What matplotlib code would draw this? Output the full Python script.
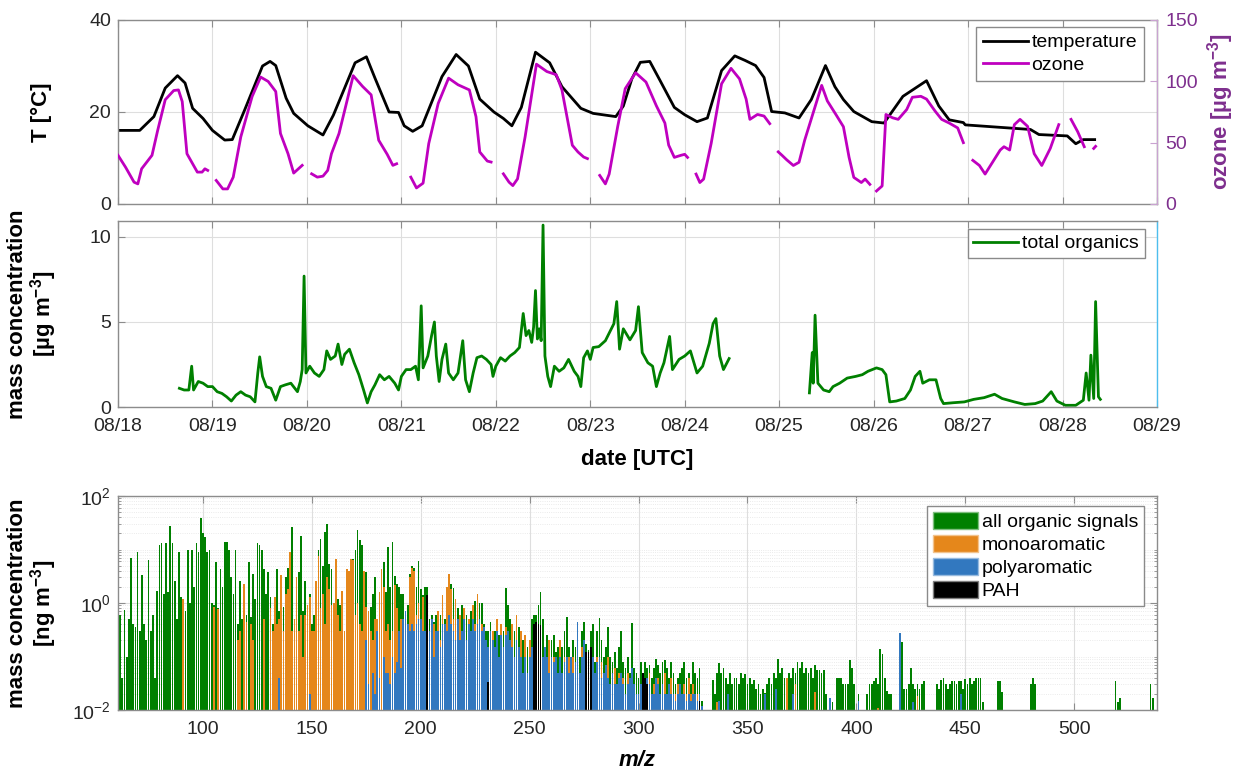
import numpy as np
import matplotlib
matplotlib.use("Agg")
import matplotlib.pyplot as plt
import matplotlib.ticker as mticker
from matplotlib.patches import Patch

plt.rcParams['font.family'] = ['Liberation Sans', 'DejaVu Sans']
plt.rcParams['mathtext.fontset'] = 'custom'
plt.rcParams['mathtext.rm'] = 'Liberation Sans'
plt.rcParams['mathtext.bf'] = 'Liberation Sans:bold'
plt.rcParams['mathtext.it'] = 'Liberation Sans:italic'

# --------------------------------------------------------------------------------------------------
# Data (time in days since 08/18 00:00 UTC)
# --------------------------------------------------------------------------------------------------

date_labels = ['08/18', '08/19', '08/20', '08/21', '08/22', '08/23',
               '08/24', '08/25', '08/26', '08/27', '08/28', '08/29']

temp_day = [0.0, 0.23, 0.38, 0.50, 0.63, 0.71, 0.79, 0.90, 1.0, 1.13, 1.21, 1.34, 1.53, 1.61,
            1.67, 1.78, 1.86, 2.01, 2.17, 2.28, 2.51, 2.63, 2.72, 2.87, 2.97, 3.03, 3.12, 3.22,
            3.43, 3.58, 3.71, 3.83, 3.98, 4.08, 4.17, 4.27, 4.42, 4.57, 4.70, 4.90, 5.03, 5.27,
            5.35, 5.44, 5.53, 5.63, 5.74, 5.89, 6.0, 6.13, 6.24, 6.39, 6.53, 6.64, 6.75, 6.84,
            6.92, 7.06, 7.21, 7.34, 7.49, 7.59, 7.68, 7.79, 7.98, 8.11, 8.31, 8.56, 8.69, 8.80,
            8.95, 8.97, 9.66, 9.75, 10.05, 10.14, 10.22, 10.34]
temp_c = [16, 16, 19, 25.2, 27.9, 26.3, 20.8, 18.6, 16, 13.9, 14, 20.4, 30, 31,
          30.1, 23, 19.7, 17, 15, 19.3, 30.7, 32, 27.4, 20, 19.9, 17, 15.8, 17,
          27.7, 32.5, 30, 22.8, 20, 18.6, 17, 21, 33, 30.7, 25.5, 20.8, 19.7, 19,
          21.3, 27.2, 30.8, 31, 26.8, 21, 19.4, 17.9, 18.7, 29, 32.2, 31.2, 30.1, 27.5,
          20.1, 19.8, 18.7, 22.7, 30.1, 25.5, 22.7, 20.1, 17.9, 17.6, 23.4, 26.8, 21.3, 18.3,
          17.7, 17.2, 16.2, 15.1, 14.8, 13.1, 14, 14]

nan = np.nan
ozone_day = [0.0, 0.08, 0.17, 0.21, 0.25, 0.36, 0.42, 0.50, 0.59, 0.64, 0.68, 0.73, 0.84, 0.89, 0.92, 0.95, 0.99,
             1.04, 1.11, 1.16, 1.22, 1.30, 1.42, 1.51, 1.59, 1.67, 1.72, 1.80, 1.86, 1.95, 2.0,
             2.05, 2.11, 2.17, 2.22, 2.26, 2.34, 2.49, 2.59, 2.68, 2.76, 2.85, 2.91, 2.95, 3.0,
             3.10, 3.16, 3.23, 3.29, 3.39, 3.50, 3.60, 3.72, 3.79, 3.83, 3.91, 3.95, 4.0,
             4.08, 4.14, 4.18, 4.23, 4.31, 4.43, 4.54, 4.64, 4.70, 4.81, 4.87, 4.93, 4.97, 5.05,
             5.10, 5.16, 5.20, 5.29, 5.37, 5.48, 5.59, 5.70, 5.79, 5.83, 5.89, 5.96, 6.0, 6.03, 6.07,
             6.12, 6.16, 6.20, 6.28, 6.39, 6.49, 6.58, 6.65, 6.69, 6.77, 6.84, 6.90, 6.95,
             6.99, 7.03, 7.08, 7.15, 7.21, 7.27, 7.36, 7.45, 7.51, 7.60, 7.68, 7.74, 7.79, 7.87, 7.91, 7.96, 8.0,
             8.03, 8.09, 8.13, 8.20, 8.26, 8.35, 8.41, 8.50, 8.56, 8.65, 8.72, 8.80, 8.89, 8.95, 9.0,
             9.05, 9.12, 9.18, 9.34, 9.38, 9.44, 9.49, 9.55, 9.63, 9.70, 9.78, 9.87, 9.96, 10.02,
             10.09, 10.16, 10.23, 10.28, 10.33, 10.35]
ozone_ug = [39.7, 30, 17.8, 16.4, 28.7, 39.7, 60, 85, 92.5, 93, 83.5, 41, 26, 26, 28.7, 27.4, nan,
            19.2, 12.3, 12.3, 21.9, 54.7, 87.6, 103.5, 99.9, 91.7, 57.5, 41, 25.2, 31.5, nan,
            24.6, 21.9, 22.7, 27.4, 41, 57.5, 104.6, 95.8, 89, 52, 40.5, 31.5, 32.8, nan,
            21.9, 13.1, 17, 49.3, 82, 102.6, 97.2, 93, 71.2, 42.4, 35, 34.2, nan,
            24.6, 17.8, 15, 20.5, 54.7, 114, 108, 105.4, 93, 47.9, 42.4, 38.3, 37, nan,
            23.3, 16.4, 24.4, 63, 94, 107, 99.4, 80, 66, 48, 38, 39.7, 40.5, 38, nan,
            24.4, 17.5, 20.3, 49.4, 98, 110.6, 102, 85.5, 69, 73, 71.7, 65.5, nan,
            42.5, 39.7, 36, 31.4, 34, 52, 74.4, 96.7, 84, 73, 63, 38, 21.7, 17.5, 20.3, 16, nan,
            10.6, 14.7, 73, 70.3, 69, 77, 87, 87.8, 85.5, 75.8, 69, 66, 62, 50, nan,
            35.6, 31.4, 24.4, 44, 46.7, 44, 64.7, 69, 63.3, 41, 31.4, 45.3, 64.7, nan,
            69, 59, 46.7, nan, 45.3, 47]

org_day = [0.65, 0.70, 0.75, 0.78, 0.80, 0.85, 0.90, 0.95, 1.00, 1.05, 1.10, 1.15, 1.20, 1.25,
           1.30, 1.35, 1.40, 1.45, 1.48, 1.50, 1.53, 1.57, 1.62, 1.67, 1.72, 1.77, 1.83, 1.90,
           1.93, 1.95, 1.97, 1.99, 2.03, 2.08, 2.13, 2.18, 2.21, 2.25, 2.30, 2.33, 2.37, 2.40,
           2.45, 2.50, 2.55, 2.60, 2.64, 2.68, 2.72, 2.77, 2.82, 2.87, 2.93, 2.97, 3.00, 3.05,
           3.10, 3.15, 3.18, 3.21, 3.23, 3.28, 3.32, 3.35, 3.37, 3.40, 3.43, 3.47, 3.50, 3.55,
           3.60, 3.65, 3.68, 3.72, 3.76, 3.80, 3.85, 3.90, 3.95, 3.97, 4.00, 4.05, 4.10, 4.15,
           4.20, 4.25, 4.29, 4.32, 4.35, 4.38, 4.40, 4.42, 4.44, 4.46, 4.48, 4.50, 4.52, 4.55,
           4.58, 4.62, 4.67, 4.72, 4.77, 4.83, 4.87, 4.90, 4.93, 4.97, 5.00, 5.03, 5.09, 5.16,
           5.25, 5.28, 5.31, 5.35, 5.42, 5.48, 5.51, 5.55, 5.61, 5.66, 5.70, 5.74, 5.78, 5.84,
           5.87, 5.94, 6.00, 6.06, 6.13, 6.19, 6.26, 6.30, 6.33, 6.37, 6.41, 6.47, 6.90,
           7.32, 7.35, 7.36, 7.38, 7.41, 7.47, 7.53, 7.57, 7.64, 7.72, 7.81, 7.88, 7.94, 8.03,
           8.09, 8.13, 8.17, 8.24, 8.33, 8.39, 8.44, 8.49, 8.52, 8.59, 8.66, 8.71, 8.74, 8.84,
           8.96, 9.06, 9.17, 9.28, 9.36, 9.49, 9.60, 9.71, 9.79, 9.88, 9.94, 10.03, 10.14, 10.22,
           10.25, 10.28, 10.30, 10.33, 10.35, 10.38, 10.40]
org_ug = [1.1, 1.0, 1.0, 2.4, 1.0, 1.5, 1.4, 1.2, 1.2, 0.9, 0.8, 0.6, 0.35, 0.7,
          0.9, 0.7, 0.6, 0.3, 2.0, 2.95, 1.8, 1.2, 1.1, 0.4, 1.2, 1.3, 1.4, 0.9,
          1.5, 2.2, 7.7, 2.0, 2.4, 2.0, 1.8, 2.2, 3.3, 2.8, 3.0, 3.7, 2.5, 3.1,
          3.4, 2.6, 1.9, 1.0, 0.24, 0.9, 1.3, 1.9, 1.6, 1.8, 1.4, 1.0, 1.8, 2.2,
          2.2, 2.4, 1.6, 5.95, 2.3, 3.0, 4.2, 5.0, 3.0, 1.5, 2.8, 3.7, 2.0, 1.6,
          2.0, 3.9, 1.6, 0.9, 2.0, 2.9, 3.0, 2.8, 2.5, 1.8, 2.4, 2.9, 2.7, 3.0,
          3.2, 3.5, 5.5, 4.2, 4.5, 3.8, 4.7, 6.85, 4.0, 4.6, 3.9, 10.7, 3.0, 1.8,
          1.2, 2.4, 2.1, 2.3, 2.8, 2.1, 1.8, 1.2, 2.9, 3.3, 2.8, 3.5, 3.55, 3.9,
          4.9, 6.2, 3.4, 4.6, 3.95, 4.5, 5.9, 3.2, 2.6, 2.4, 1.2, 2.0, 2.6, 4.15,
          2.2, 2.8, 3.0, 3.3, 2.0, 2.4, 3.75, 4.9, 5.2, 3.0, 2.2, 2.85, nan,
          0.83, 3.2, 1.4, 5.4, 1.4, 1.0, 0.9, 1.2, 1.4, 1.7, 1.8, 1.9, 2.1, 2.3,
          2.2, 1.9, 0.3, 0.35, 0.5, 1.0, 1.8, 2.1, 1.4, 1.6, 1.6, 0.5, 0.2, 0.25,
          0.3, 0.45, 0.55, 0.75, 0.5, 0.3, 0.15, 0.2, 0.35, 0.9, 0.35, 0.1, 0.1, 0.4,
          2.0, 0.4, 3.05, 0.5, 6.2, 0.6, 0.45]

# mass spectrum, one value per integer m/z [ng m-3]
mz_all_first = 62
all_signals = [0.6, 0.04, 0.75, 0.1, 0.5, 7, 0.4, 0.35, 9, 0.3,
               3.3, 0.4, 0.2, 6.4, 0.3, 0.6, 0.04, 1.7, 12, 13,
               1.5, 13, 1.6, 28, 13, 2.6, 0.5, 9, 1.3, 1.2,
               0.7, 10, 1.0, 10, 2, 13, 9, 38, 20, 17,
               9, 10, 1.0, 0.9, 5.8, 0.8, 4.4, 2, 14, 14,
               10, 3, 1.5, 10, 0.4, 2.6, 0.5, 2.3, 0.6, 5.8,
               0.55, 3.5, 1.2, 13, 12, 10, 4.4, 1.5, 3.8, 1.3,
               0.4, 1.3, 4.4, 0.7, 3.3, 0.85, 3, 4.5, 9, 26,
               0.5, 3.0, 3.8, 18, 0.7, 2.6, 0.9, 1.5, 0.4, 0.6,
               2.6, 10, 16, 5, 21, 30, 5.4, 4.4, 1.0, 6.7,
               1.2, 0.9, 1.7, 0.3, 4.4, 4.0, 6.7, 6.7, 10, 23,
               15, 12, 4, 3.8, 0.7, 0.85, 1.5, 3, 0.5, 1.6,
               4.4, 5.8, 1.6, 11, 2, 14, 3.2, 2.3, 2, 1.5,
               1.5, 0.7, 0.9, 3.5, 5, 4.5, 2.0, 6,
               1.8, 1.4, 2.0, 2.0, 0.5, 0.6, 0.45, 0.6, 0.7, 0.6,
               1.4, 0.5, 2.0, 3.5, 2.3, 1.9, 1.2, 0.8, 0.6, 0.9,
               0.8, 0.6, 0.5, 0.7, 0.9, 1.1, 1.5, 1.0, 1.0, 0.4,
               0.3, 0.3, 0.45, 0.3, 0.3, 0.5, 0.25, 0.4, 0.3, 1.9,
               0.9, 0.5, 0.4, 0.3, 0.6, 0.35, 0.3, 0.2, 0.25, 0.15,
               0.2, 0.5, 0.6, 0.6, 0.9, 1.6, 0.5, 0.15, 0.25, 0.2,
               0.2, 0.25, 0.12, 0.15, 0.2, 0.15, 0.3, 0.55, 0.15, 0.1,
               0.2, 0.15, 0.45, 0.1, 0.3, 0.44, 0.17, 0.13, 0.3, 0.4,
               0.08, 0.3, 0.53, 0.2, 0.1, 0.15, 0.35, 0.1, 0.08, 0.12,
               0.06, 0.15, 0.3, 0.08, 0.06, 0.1, 0.05, 0.42, 0.06, 0.05,
               0.04, 0.08, 0.05, 0.08, 0.06, 0.07, 0.04, 0.06, 0.09, 0.07,
               0.05, 0.08, 0.085, 0.06, 0.04, 0.08, 0.05, 0.03, 0.04, 0.05,
               0.06, 0.08, 0.04, 0.05, 0.03, 0.08, 0.05, 0.04, 0.06, 0.015]

mz_mono_first = 91
mono = [1.2, 0, 0, 0, 0, 0, 0, 0, 0, 0,
        0, 0, 0, 0, 0.85, 0, 0.78, 0, 0, 0,
        0, 0, 0, 0, 0, 0.2, 0.3, 0, 2.3, 0.45,
        0, 0.4, 0.2, 0, 0, 0, 0, 0.5, 0, 0,
        0.8, 0.3, 1.3, 0.4, 0.5, 3.3, 0.3, 1.5, 1.8, 9,
        0.3, 0.5, 3.0, 0.3, 0.6, 0.1, 0.6, 0.9, 1.3, 0.3,
        0.3, 2.6, 7.7, 0.8, 1.5, 0.4, 3, 1.8, 0.9, 1.0,
        6.7, 0.6, 0.3, 1.7, 0.3, 4.4, 3.9, 6.7, 6.5, 0.6,
        1.0, 0.4, 0.3, 4, 0.85, 0.7, 0.3, 0.2, 0.5, 0.5,
        1.6, 4.4, 2, 0.3, 0.4, 0.2, 0.3, 2.2, 0.8, 0.2,
        0.5, 0.3, 0.7, 0.3, 3.0, 4.5, 4.0, 0.6, 1.0,
        0.4, 1.3, 0.3, 0.5, 0.2, 0.3, 0.4, 0.2, 0.7, 0.2,
        1.4, 0.3, 2.0, 3.5, 1.8, 0.5, 1.2, 0.3, 0.6, 0.2,
        0.8, 0.2, 0.5, 0.3, 0.9, 0.4, 1.5, 0.3, 0.4, 0.2,
        0.15, 0.1, 0.2, 0.3, 0.1, 0.5, 0.1, 0.4, 0.1, 0.35,
        0.2, 0.1, 0.4, 0.1, 0.6, 0.1, 0.3, 0.05, 0.25, 0.05,
        0.2, 0.1, 0.4, 0.1, 0.3, 0.2, 0.1, 0.05, 0.1, 0.2,
        0.05, 0.1, 0.05, 0.05, 0.2, 0.05, 0.1, 0.05, 0.1, 0.05,
        0.1, 0.05, 0.1, 0.03, 0.15, 0.05, 0.05, 0.03, 0.1, 0.05,
        0.03, 0.1, 0.05, 0.08, 0.03, 0.05, 0.1, 0.03, 0.05, 0.06,
        0.02, 0.05, 0.03, 0.04, 0.02, 0.05, 0.02, 0.03, 0.03, 0.02,
        0.02, 0.03, 0.02, 0.04, 0.02, 0.05, 0.02, 0.03, 0.02, 0.04,
        0.02, 0.03, 0.05, 0.02, 0.03, 0.04, 0.02, 0.02, 0.03, 0.02,
        0.02, 0.03, 0.02, 0.04, 0.02, 0.03, 0.02, 0.02, 0.02, 0.01]

mz_poly_first = 175
poly = [0.2, 0.03, 0, 0.05, 0.02, 0.3, 0.04, 0, 0.1, 0.05,
        0.05, 0.03, 0.1, 0.05, 0.08, 0.3, 0.06, 0.5, 0.7, 0.4,
        0.3, 0.4, 0.3, 0.4, 0.5,
        0.5, 0.3, 0.3, 1.0, 0.3, 0.5, 0.1, 0.3, 0.3, 0.15,
        0.4, 0.4, 0.3, 0.6, 0.4, 0.3, 0.2, 0.5, 0.2, 0.3,
        0.5, 0.2, 0.4, 0.3, 0.5, 0.3, 0.4, 0.5, 0.3, 0.35,
        0.2, 0.15, 0.3, 0.2, 0.15, 0.3, 0.1, 0.25, 0.15, 0.25,
        0.3, 0.2, 0.15, 0.1, 0.2, 0.15, 0.1, 0.05, 0.1, 0.05,
        0.1, 0.15, 0.2, 0.1, 0.3, 0.15, 0.1, 0.15, 0.1, 0.05,
        0.1, 0.08, 0.1, 0.05, 0.1, 0.05, 0.08, 0.1, 0.05, 0.1,
        0.05, 0.08, 0.44, 0.05, 0.1, 0.2, 0.05, 0.05, 0.08, 0.1,
        0.05, 0.08, 0.1, 0.04, 0.05, 0.07, 0.04, 0.03, 0.05, 0.03,
        0.03, 0.04, 0.05, 0.03, 0.02, 0.03, 0.04, 0.06, 0.03, 0.02,
        0.02, 0.03, 0.02, 0.03, 0.04, 0.03, 0.02, 0.02, 0.04, 0.03,
        0.02, 0.03, 0.02, 0.02, 0.03, 0.02, 0.02, 0.015, 0.02, 0.03,
        0.02, 0.02, 0.015, 0.02, 0.015, 0.02, 0.02, 0.015, 0.02, 0.012]

pah_mz = [203, 231, 252, 253, 254, 255, 276, 277, 278, 302, 303, 304, 328]
pah = [1.4, 0.033, 0.4, 0.45, 0.4, 0.38, 0.12, 0.12, 0.15, 0.05, 0.04, 0.03, 0.015]

# sparse signals above m/z 330 (and a few isolated ones)
tail_mz = [334, 335, 336, 337, 338, 339, 340, 341, 342, 343, 344, 345, 346, 347, 348, 349,
           350, 351, 352, 353, 354, 355, 356, 357, 358, 359, 360, 361, 362, 363, 364, 365,
           366, 367, 368, 369, 370, 371, 372, 373, 374, 375, 376, 377, 378, 379, 380, 381,
           382, 383, 384, 385, 386, 388, 389, 391, 392, 393, 394, 395, 396, 397, 398, 399,
           401, 405, 406, 407, 408, 409, 410, 411, 412, 413, 414, 415, 416, 420, 421, 422,
           423, 424, 425, 426, 427, 428, 429, 430, 431, 437, 438, 439, 440, 441, 442, 443,
           444, 445, 446, 447, 448, 449, 450, 451, 452, 453, 454, 455, 456, 457, 458, 465,
           466, 467, 480, 481, 482, 519, 520, 521, 535, 536]
tail_all = [0.036, 0.02, 0.05, 0.075, 0.05, 0.06, 0.04, 0.03, 0.05, 0.03, 0.04, 0.039, 0.03, 0.05, 0.04, 0.047,
            0.03, 0.04, 0.03, 0.036, 0.025, 0.03, 0.02, 0.025, 0.021, 0.03, 0.04, 0.03, 0.05, 0.04, 0.09, 0.05,
            0.06, 0.04, 0.03, 0.05, 0.04, 0.06, 0.05, 0.08, 0.06, 0.08, 0.05, 0.06, 0.05, 0.06, 0.04, 0.07,
            0.055, 0.055, 0.05, 0.055, 0.02, 0.017, 0.014, 0.04, 0.04, 0.04, 0.03, 0.03, 0.03, 0.087, 0.06, 0.03,
            0.02, 0.02, 0.03, 0.03, 0.035, 0.04, 0.03, 0.14, 0.11, 0.04, 0.023, 0.02, 0.02, 0.28, 0.19, 0.025,
            0.025, 0.03, 0.06, 0.03, 0.025, 0.03, 0.025, 0.03, 0.035, 0.03, 0.025, 0.036, 0.04, 0.03, 0.025, 0.03,
            0.035, 0.035, 0.03, 0.035, 0.035, 0.025, 0.038, 0.03, 0.04, 0.03, 0.035, 0.04, 0.039, 0.04, 0.014, 0.035,
            0.035, 0.022, 0.03, 0.039, 0.03, 0.035, 0.014, 0.017, 0.03, 0.017]
tail_mono_mz = [336, 368, 372, 381, 410, 428]
tail_mono = [0.014, 0.04, 0.03, 0.022, 0.011, 0.018]
tail_poly_mz = [135, 149, 337, 341, 358, 363, 371, 388, 401, 420, 426, 448]
tail_poly = [0.04, 0.02, 0.015, 0.02, 0.02, 0.025, 0.02, 0.017, 0.015, 0.28, 0.014, 0.02]

# --------------------------------------------------------------------------------------------------
# Style
# --------------------------------------------------------------------------------------------------

W, H = 1237, 769
frame_col = '#8c8c8c'
tick_col = '#262626'
grid_col = '#dedede'
ozone_axis_col = '#7E2F8E'
ozone_col = '#BF00BF'
green = '#008000'
orange = '#E5871B'
blue = '#3278BF'


def px_axes(left, top, right, bottom):
    return [left / W, 1 - bottom / H, (right - left) / W, (bottom - top) / H]


def style_axes(ax):
    for s in ax.spines.values():
        s.set_color(frame_col)
        s.set_linewidth(1.0)
    ax.tick_params(which='both', direction='in', labelsize=14, colors=frame_col,
                   labelcolor=tick_col, length=5, top=True)
    ax.tick_params(which='minor', length=2.5)
    ax.tick_params(axis='x', pad=8)
    ax.tick_params(axis='y', pad=5)


def legend_box(leg):
    fr = leg.get_frame()
    fr.set_edgecolor('#8a8a8a')
    fr.set_linewidth(1.0)
    fr.set_boxstyle('square', pad=0)


fig = plt.figure(figsize=(W / 100, H / 100), dpi=100)

# --------------------------------------------------------------------------------------------------
# Panel 1: temperature and ozone
# --------------------------------------------------------------------------------------------------
ax1 = fig.add_axes(px_axes(118, 20, 1157, 204))
style_axes(ax1)
ax1.plot(temp_day, temp_c, color='black', lw=2.0, label='temperature')
ax1.set_xlim(0, 11)
ax1.set_ylim(0, 40)
ax1.set_yticks([0, 20, 40])
ax1.set_xticks(range(len(date_labels)))
ax1.tick_params(axis='x', labelbottom=False)
ax1.tick_params(axis='y', right=False)
ax1.grid(True, color=grid_col, lw=0.8)
ax1.set_axisbelow(True)
ax1.set_ylabel('T [°C]', fontsize=16, fontweight='bold', color='black')
ax1.yaxis.set_label_coords(-0.064, 0.5)

ax1r = ax1.twinx()
ax1r.plot(ozone_day, ozone_ug, color=ozone_col, lw=2.0, label='ozone')
ax1r.set_ylim(0, 150)
ax1r.set_yticks([0, 50, 100, 150])
for s in ['left', 'top', 'bottom']:
    ax1r.spines[s].set_visible(False)
ax1r.spines['right'].set_color('#c9a3d1')
ax1r.tick_params(axis='y', direction='in', labelsize=14, colors='#c9a3d1',
                 labelcolor=ozone_axis_col, length=5, pad=6)
ax1r.set_ylabel(r'ozone [µg m$^{\mathbf{-3}}$]', fontsize=16, fontweight='bold',
                color=ozone_axis_col)
ax1r.yaxis.set_label_coords(1.046, 0.5)

h1, l1 = ax1.get_legend_handles_labels()
h2, l2 = ax1r.get_legend_handles_labels()
leg1 = ax1r.legend(h1 + h2, l1 + l2, loc='upper right', bbox_to_anchor=(0.9875, 0.962),
                   borderaxespad=0, fontsize=14, fancybox=False, framealpha=1,
                   handlelength=2.3, handletextpad=0.2, borderpad=0.35, labelspacing=0.25)
legend_box(leg1)

# --------------------------------------------------------------------------------------------------
# Panel 2: total organics
# --------------------------------------------------------------------------------------------------
ax2 = fig.add_axes(px_axes(118, 221, 1157, 407))
style_axes(ax2)
ax2.plot(org_day, org_ug, color=green, lw=2.0, label='total organics')
ax2.set_xlim(0, 11)
ax2.set_ylim(0, 10.94)
ax2.set_yticks([0, 5, 10])
ax2.set_xticks(range(len(date_labels)))
ax2.set_xticklabels(date_labels)
ax2.tick_params(axis='y', right=False)
ax2.spines['right'].set_color('#4DBEEE')
ax2.grid(True, color=grid_col, lw=0.8)
ax2.set_axisbelow(True)
ax2.set_ylabel('mass concentration\n' + r'[µg m$^{\mathbf{-3}}$]', fontsize=16,
               fontweight='bold', color='black', linespacing=1.0)
ax2.yaxis.set_label_coords(-0.057, 0.5)
ax2.set_xlabel('date [UTC]', fontsize=16, fontweight='bold', color='black')
ax2.xaxis.set_label_coords(0.5, -0.225)
leg2 = ax2.legend(loc='upper right', bbox_to_anchor=(0.988, 0.957), borderaxespad=0,
                  fontsize=14, fancybox=False, framealpha=1, handlelength=2.3,
                  handletextpad=0.2, borderpad=0.3)
legend_box(leg2)

# --------------------------------------------------------------------------------------------------
# Panel 3: mass spectrum
# --------------------------------------------------------------------------------------------------
ax3 = fig.add_axes(px_axes(118, 496, 1157, 710))
style_axes(ax3)
ax3.set_yscale('log')

mz_all = np.arange(mz_all_first, mz_all_first + len(all_signals))
mz_mono = np.arange(mz_mono_first, mz_mono_first + len(mono))
mz_poly = np.arange(mz_poly_first, mz_poly_first + len(poly))

groups = [
    (np.concatenate([mz_all, tail_mz]), np.concatenate([all_signals, tail_all]), green),
    (np.concatenate([mz_mono, tail_mono_mz]), np.concatenate([mono, tail_mono]), orange),
    (np.concatenate([mz_poly, tail_poly_mz]), np.concatenate([poly, tail_poly]), blue),
    (np.array(pah_mz), np.array(pah), 'black'),
]
for x, y, c in groups:
    keep = y > 0
    ax3.bar(x[keep], y[keep] - 1e-3, bottom=1e-3, width=0.8, color=c, linewidth=0)

ax3.set_xlim(61, 538)
ax3.set_ylim(1e-2, 1e2)
ax3.set_xticks([100, 150, 200, 250, 300, 350, 400, 450, 500])
ax3.yaxis.set_major_locator(mticker.FixedLocator([1e-2, 1e0, 1e2]))
ax3.yaxis.set_major_formatter(mticker.LogFormatterSciNotation())
ax3.yaxis.set_minor_locator(mticker.LogLocator(base=10, subs=np.arange(1, 10), numticks=30))
ax3.yaxis.set_minor_formatter(mticker.NullFormatter())
ax3.tick_params(axis='y', which='both', right=True)
ax3.grid(True, which='major', color=grid_col, lw=0.8)
ax3.grid(True, which='minor', axis='y', color='#e4e4e4', lw=0.6, ls=':')
ax3.set_axisbelow(True)
ax3.set_ylabel('mass concentration\n' + r'[ng m$^{\mathbf{-3}}$]', fontsize=16,
               fontweight='bold', color='black', linespacing=1.0)
ax3.yaxis.set_label_coords(-0.057, 0.5)
ax3.set_xlabel('m/z', fontsize=16, fontweight='bold', fontstyle='italic', color='black')
ax3.xaxis.set_label_coords(0.5, -0.185)

handles = [Patch(facecolor=green, edgecolor='#7fbf7f', label='all organic signals'),
           Patch(facecolor=orange, edgecolor='#f2c38d', label='monoaromatic'),
           Patch(facecolor=blue, edgecolor='#98bbdf', label='polyaromatic'),
           Patch(facecolor='black', edgecolor='#7f7f7f', label='PAH')]
leg3 = ax3.legend(handles=handles, loc='upper right', bbox_to_anchor=(0.9875, 0.953),
                  borderaxespad=0, fontsize=14, fancybox=False, framealpha=1,
                  handlelength=2.3, handleheight=0.95, handletextpad=0.2,
                  borderpad=0.3, labelspacing=0.2)
legend_box(leg3)

plt.savefig('out.png', dpi=100)
